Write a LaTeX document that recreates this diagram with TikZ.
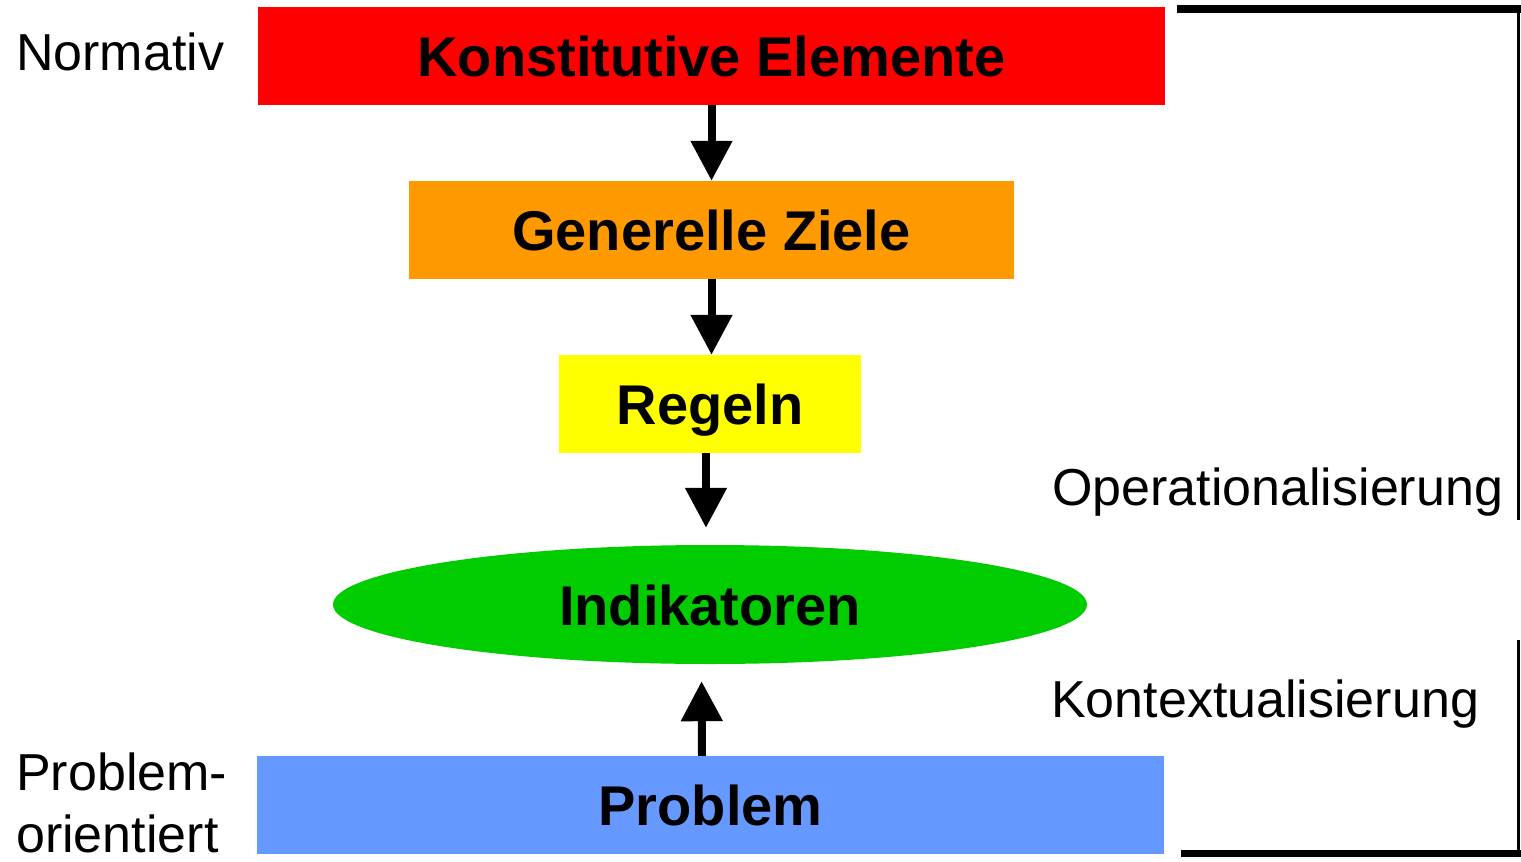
\documentclass[tikz,border=0pt]{standalone}
\usepackage{fontspec}
\setmainfont{Liberation Sans}
\usetikzlibrary{arrows.meta,shapes.geometric}

\definecolor{boxred}{HTML}{FF0000}
\definecolor{boxorange}{HTML}{FF9900}
\definecolor{boxyellow}{HTML}{FFFF00}
\definecolor{boxgreen}{HTML}{00CC00}
\definecolor{boxblue}{HTML}{6699FF}

\tikzset{
  levelfont/.style={font=\fontsize{56}{60}\selectfont\bfseries},
  level/.style={rectangle, inner sep=0pt, minimum height=98pt,
    text height=41pt, text depth=0pt, levelfont},
  sidelabel/.style={inner sep=0pt, font=\fontsize{52}{62}\selectfont},
  flow/.style={line width=8pt, -{Triangle[width=40pt,length=40pt]}},
  bracket/.style={line width=#1},
}

\begin{document}
\begin{tikzpicture}[x=1pt,y=-1pt]
  \useasboundingbox (0,0) rectangle (1521,862);

  % hierarchy of levels
  \node[level, fill=boxred, minimum width=907pt] (konst) at (711.5,56) {Konstitutive Elemente};
  \node[level, fill=boxorange, minimum width=605pt] (ziele) at (711.5,230) {Generelle Ziele};
  \node[level, fill=boxyellow, minimum width=302pt] (regeln) at (710,404) {Regeln};
  \node[ellipse, fill=boxgreen, inner sep=0pt, minimum width=754pt, minimum height=119pt,
        text height=41pt, text depth=0pt, levelfont] (ind) at (710,604.5) {Indikatoren};
  \node[level, fill=boxblue, minimum width=907pt] (problem) at (710.5,805) {Problem};

  % arrows between the levels
  \draw[flow] (konst.south) -- (ziele.north);
  \draw[flow] (ziele.south) -- (ziele.south |- regeln.north);
  \draw[flow, shorten >=17pt] ([xshift=-4pt]regeln.south) -- ([xshift=-4pt]ind.north);
  \draw[flow, shorten >=17pt] ([xshift=-8.5pt]problem.north) -- ([xshift=-8.5pt]ind.south);

  % side labels
  \node[sidelabel, anchor=base west] (normativ) at (16,70) {Normativ};
  \node[sidelabel, anchor=base west, align=left] (problemorient) at (16,852) {Problem-\\orientiert};
  \node[sidelabel, anchor=base west] (oper) at (1052,505) {Operationalisierung};
  \node[sidelabel, anchor=base west] (kontext) at (1051,717) {Kontextualisierung};

  % brackets on the right
  \coordinate (topl) at (1177,9);
  \coordinate (topr) at (1518.5,9);
  \coordinate (midend) at (1518.5,520);
  \coordinate (lowstart) at (1518.5,640);
  \coordinate (botr) at (1518.5,853.5);
  \coordinate (botl) at (1181,853.5);
  \draw[bracket=8pt] (topl) -- ([xshift=2.5pt]topr);
  \draw[bracket=3pt] ([yshift=-4pt]topr) -- (midend);
  \draw[bracket=3pt] (lowstart) -- ([yshift=3.5pt]botr);
  \draw[bracket=7pt] (botl) -- ([xshift=2.5pt]botr);
\end{tikzpicture}
\end{document}
